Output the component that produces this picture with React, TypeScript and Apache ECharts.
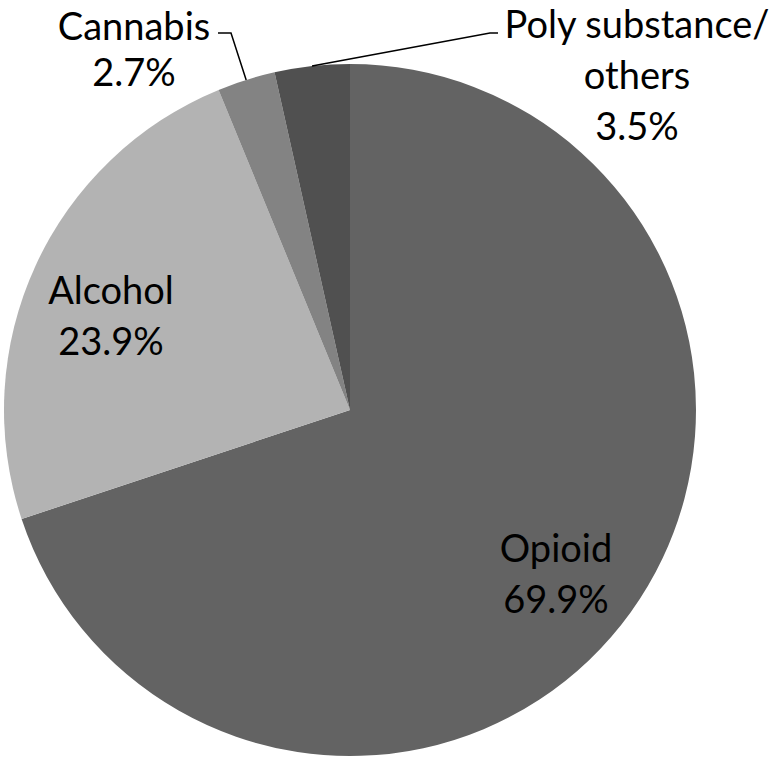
import React, { useEffect, useRef } from "react";
import * as echarts from "echarts";

const categories = ["Opioid", "Alcohol", "Cannabis", "Poly substance/\nothers"];
const values = [69.9, 23.9, 2.7, 3.5];
const colors = ["#636363", "#b3b3b3", "#838383", "#505050"];

// layout (not data)
const CENTER: [number, number] = [350, 410];
const RADIUS = 346;
const labelPos: [number, number][] = [
  [556, 572],
  [111, 314],
  [134, 48],
  [637, 74],
];
const labelLineHeights = [51, 51, 46, 51];
// leader-line elbow points for the two small slices (index -> points after anchor)
const leaderElbows: Record<number, [number, number][]> = {
  2: [
    [231, 33],
    [218, 33],
  ],
  3: [
    [490, 33],
    [498, 33],
  ],
};

function midAnchor(index: number): [number, number] {
  const total = values.reduce((a, b) => a + b, 0);
  let cum = 0;
  for (let i = 0; i < index; i++) cum += values[i];
  const mid = (cum + values[index] / 2) / total;
  const ang = mid * Math.PI * 2; // clockwise from top
  return [CENTER[0] + RADIUS * Math.sin(ang), CENTER[1] - RADIUS * Math.cos(ang)];
}

export default function App() {
  const ref = useRef<HTMLDivElement>(null);
  useEffect(() => {
    if (!ref.current) return;
    const chart = echarts.init(ref.current, undefined, { renderer: "svg" });
    const graphics = Object.keys(leaderElbows).map((k) => {
      const idx = Number(k);
      return {
        type: "polyline",
        z: 100,
        shape: { points: [midAnchor(idx), ...leaderElbows[idx]] },
        style: { stroke: "#000", lineWidth: 1.5, fill: null },
      };
    });
    chart.setOption({
      animation: false,
      backgroundColor: "#ffffff",
      graphic: graphics,
      series: [
        {
          type: "pie",
          center: CENTER,
          radius: RADIUS,
          startAngle: 90,
          clockwise: true,
          avoidLabelOverlap: false,
          data: categories.map((name, i) => ({
            name,
            value: values[i],
            itemStyle: { color: colors[i] },
            label: { lineHeight: labelLineHeights[i] },
          })),
          label: {
            show: true,
            position: "inside",
            formatter: (p: any) => `${p.name}\n${p.value}%`,
            fontFamily: "Lato",
            fontSize: 38,
            color: "#000",
            align: "center",
          },
          labelLine: { show: false },
          labelLayout: (p: any) => ({
            x: labelPos[p.dataIndex][0],
            y: labelPos[p.dataIndex][1],
            align: "center",
            verticalAlign: "middle",
          }),
          emphasis: { disabled: true },
        },
      ],
    });
    return () => chart.dispose();
  }, []);
  return (
    <div
      ref={ref}
      style={{ position: "fixed", left: 0, top: 0, width: 780, height: 761 }}
    />
  );
}
